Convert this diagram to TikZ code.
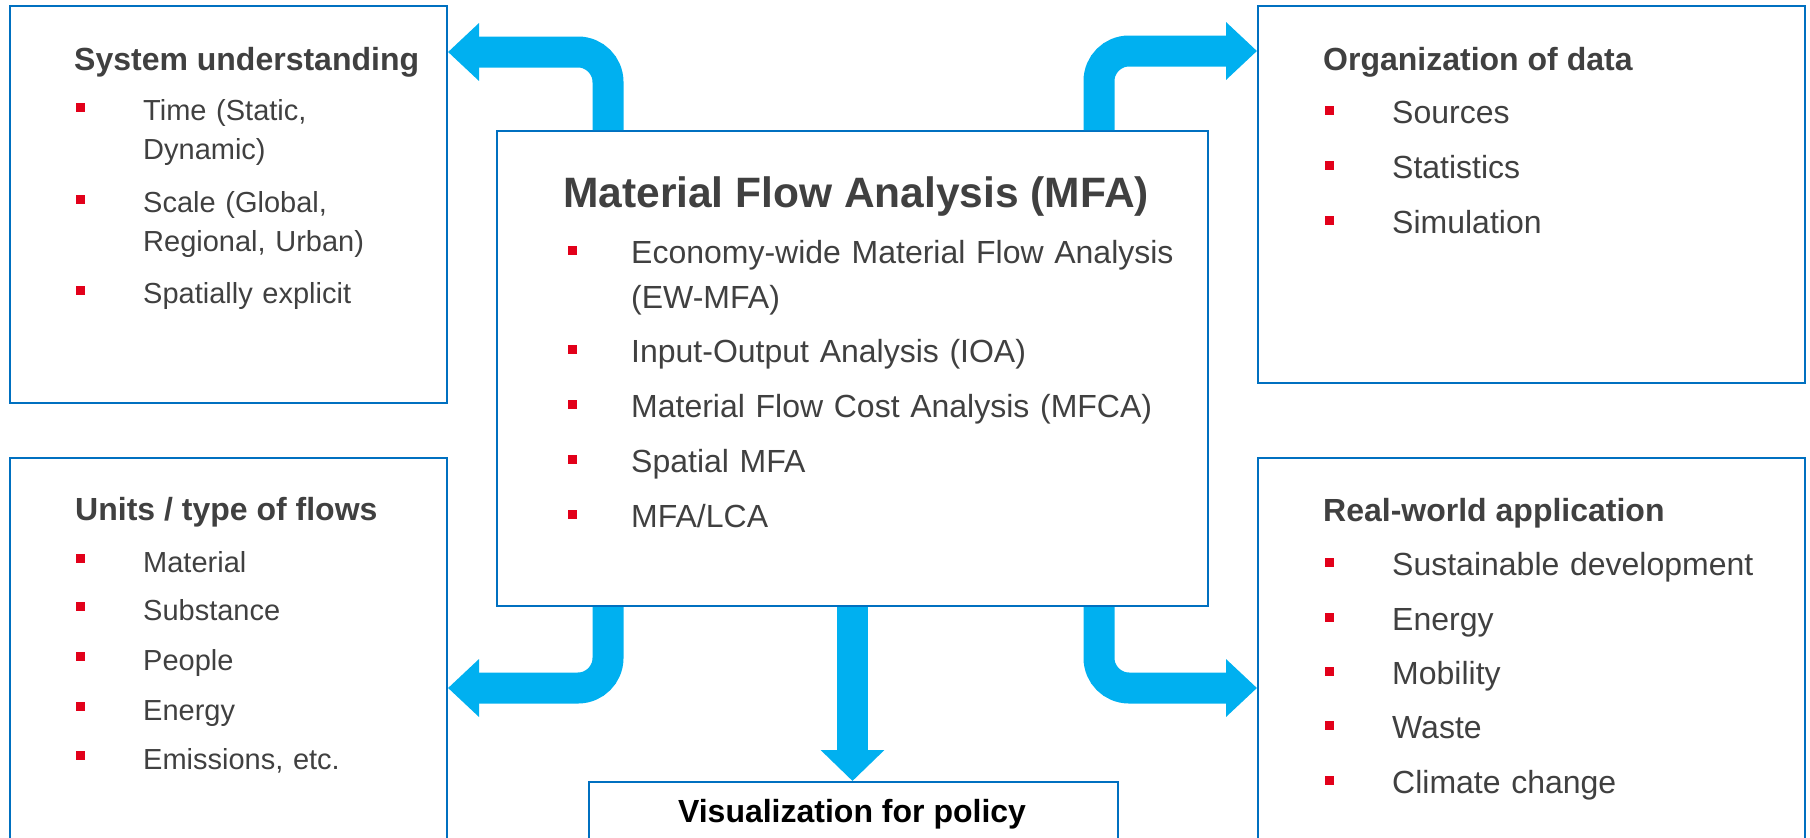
\documentclass[tikz,border=0pt]{standalone}
\usepackage{fontspec}
\setmainfont{Liberation Sans}
\usepackage{tikz}
\usetikzlibrary{positioning,calc,arrows.meta}
\definecolor{boxBlue}{HTML}{0070C0}
\definecolor{flowBlue}{HTML}{00B0F0}
\definecolor{bulletRed}{HTML}{E2001A}
\definecolor{textGray}{HTML}{404040}
\tikzset{
  topicBox/.style={
    rectangle,
    draw=boxBlue,
    line width=2pt,
    inner sep=0pt,
    anchor=north west
  },
  boxTitle/.style={
    anchor=base west,
    inner sep=0pt,
    text=textGray,
    font=\fontsize{32}{38}\selectfont\bfseries
  },
  bulletMark/.style={
    rectangle,
    fill=bulletRed,
    minimum size=9pt,
    inner sep=0pt
  },
  leftItem/.style={
    anchor=base west,
    inner sep=0pt,
    text width=300pt,
    text=textGray,
    font=\fontsize{29}{39}\selectfont
  },
  rightItem/.style={
    anchor=base west,
    inner sep=0pt,
    text width=570pt,
    text=textGray,
    font=\fontsize{32}{45}\selectfont
  },
  flowArrow/.style={
    draw=flowBlue,
    line width=31pt,
    rounded corners=30pt,
    -{Triangle[length=31pt,width=56pt]}
  }
}

\begin{document}
\begin{tikzpicture}[x=1pt,y=-1pt]
  \path[use as bounding box] (0,0) rectangle (1810,838);
  \clip (0,0) rectangle (1810,838);

  % boxes
  \node[topicBox, minimum width=437pt, minimum height=397pt] (sysund) at (9,5) {};
  \node[topicBox, minimum width=437pt, minimum height=420pt] (units) at (9,457) {};
  \node[topicBox, minimum width=547pt, minimum height=377pt] (orgdata) at (1257,5) {};
  \node[topicBox, minimum width=547pt, minimum height=420pt] (realapp) at (1257,457) {};
  \node[topicBox, minimum width=711pt, minimum height=475pt] (mfa) at (496,130) {};
  \node[topicBox, minimum width=529pt, minimum height=96pt] (policy) at (588,781) {};

  % titles
  \node[boxTitle] (sysundTitle) at (74,70) {System understanding};
  \node[boxTitle] (unitsTitle) at (75,520) {Units / type of flows};
  \node[boxTitle] (orgdataTitle) at (1323,70) {Organization of data};
  \node[boxTitle] (realappTitle) at (1323,521) {Real-world application};
  \node[boxTitle, font=\fontsize{42.5}{50}\selectfont\bfseries] (mfaTitle) at (563,207) {Material Flow Analysis (MFA)};
  \node[boxTitle, text=black, anchor=base] (policyTitle) at (852,822) {Visualization for policy};

  % bullet lists
  \foreach \yy/\txt [count=\i] in {120/{Time (Static,\\Dynamic)}, 212/{Scale (Global,\\Regional, Urban)}, 303/{Spatially explicit}} {
    \node[bulletMark] (sysundBullet\i) at (80.5,\yy-13) {};
    \node[leftItem] (sysundItem\i) at (143,\yy) {\txt};
  }
  \foreach \yy/\txt [count=\i] in {572/Material, 620/Substance, 670/People, 720/Energy, 769/{Emissions, etc.}} {
    \node[bulletMark] (unitsBullet\i) at (80.5,\yy-14) {};
    \node[leftItem] (unitsItem\i) at (143,\yy) {\txt};
  }
  \foreach \yy/\txt [count=\i] in {123/Sources, 178/Statistics, 233/Simulation} {
    \node[bulletMark] (orgdataBullet\i) at (1329,\yy-13) {};
    \node[rightItem] (orgdataItem\i) at (1392,\yy) {\txt};
  }
  \foreach \yy/\txt [count=\i] in {575/Sustainable development, 630/Energy, 684/Mobility, 738/Waste, 793/Climate change} {
    \node[bulletMark] (realappBullet\i) at (1329,\yy-13) {};
    \node[rightItem] (realappItem\i) at (1392,\yy) {\txt};
  }
  \foreach \yy/\txt [count=\i] in {263/{Economy-wide Material Flow Analysis\\(EW-MFA)}, 362/{Input-Output Analysis (IOA)}, 417/{Material Flow Cost Analysis (MFCA)}, 472/{Spatial MFA}, 527/{MFA/LCA}} {
    \node[bulletMark] (mfaBullet\i) at (572,\yy-13) {};
    \node[rightItem] (mfaItem\i) at (631,\yy) {\txt};
  }

  % arrows
  \draw[flowArrow] ([xshift=112pt]mfa.north west) |- ([yshift=-47pt]sysund.north east);
  \draw[flowArrow] ([xshift=-110pt]mfa.north east) |- ([yshift=-46pt]orgdata.north west);
  \draw[flowArrow] ([xshift=112pt]mfa.south west) |- ([yshift=-231pt]units.north east);
  \draw[flowArrow] ([xshift=-110pt]mfa.south east) |- ([yshift=-231pt]realapp.north west);
  \draw[flowArrow, -{Triangle[length=31pt,width=62pt]}] (mfa.south) -- (mfa.south |- policy.north);
\end{tikzpicture}
\end{document}
